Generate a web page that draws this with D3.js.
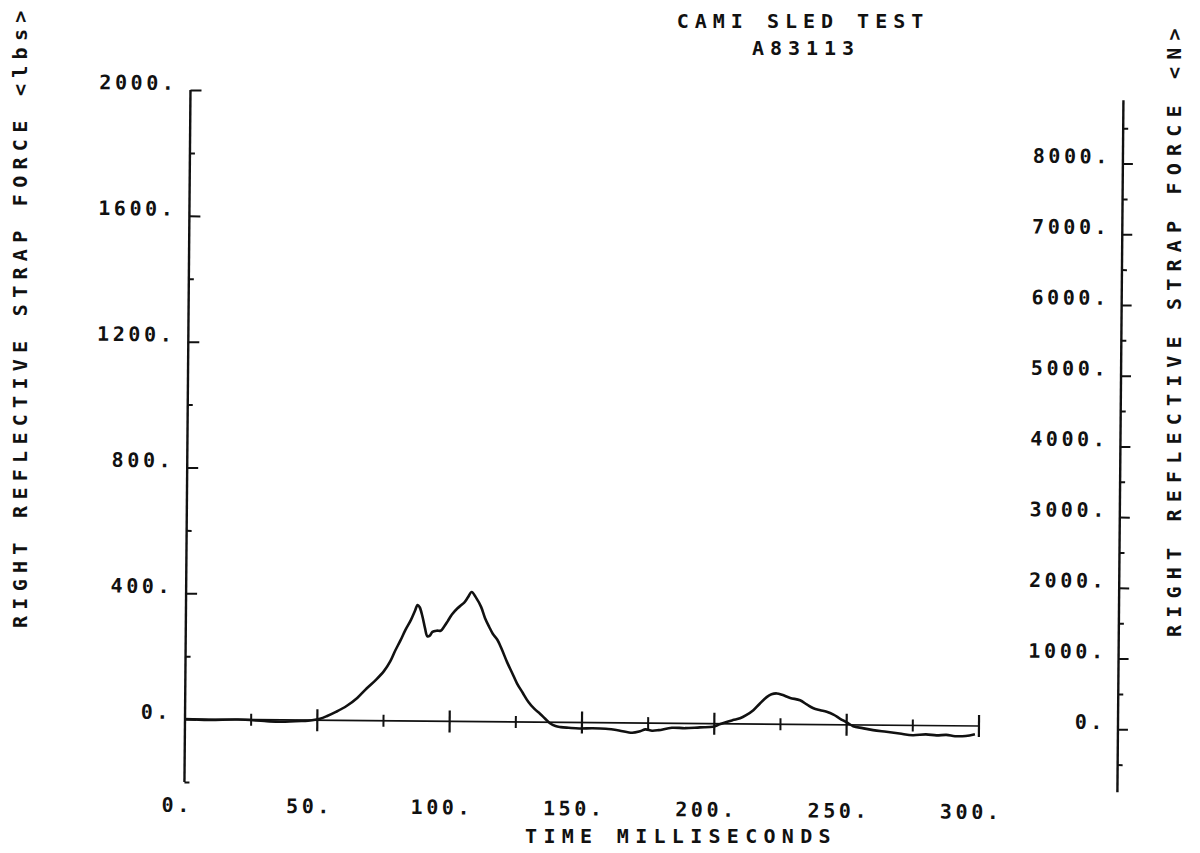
<!DOCTYPE html>
<html>
<head>
<meta charset="utf-8">
<script src="https://cdn.jsdelivr.net/npm/d3@7"></script>
<style>
  html, body { margin: 0; padding: 0; background: #fff; }
  svg { display: block; }
  text { font-family: "DejaVu Sans Mono", monospace; fill: #111; font-weight: bold; }
</style>
</head>
<body>
<svg id="chart" width="1200" height="853"></svg>
<script>
// ---- data ----
const timeMs = [0, 9, 20, 30, 36, 44, 48, 51, 53.5, 57, 61, 65, 68.6, 72, 75, 77.4, 79, 81.2, 83, 85,
  86.5, 87.5, 88.3, 89.4, 90.4, 91.3, 92.2, 93.2, 94.8, 96.3, 97.5, 98.9, 100.5, 102.6, 104, 105.1,
  106.5, 107.9, 109.5, 111.5, 113, 114.6, 116, 117.8, 119.5, 121.5, 123.5, 125.3, 127.5, 129.7, 132,
  134.1, 136, 137.9, 140, 142, 145, 149, 154, 159, 164, 169, 172, 174, 176.5, 179, 184, 189, 194.6,
  199.5, 202, 204.6, 207, 209.7, 212, 214.7, 217, 219.7, 221.5, 223.5, 225.5, 228.6, 232.3, 235,
  237.4, 240, 242.4, 245, 247.4, 250, 252.5, 256, 260, 265, 270, 275, 280, 284, 287.7, 291, 295, 298.5];
const forceLb = [0, -2, 0, -4, -6, -3, 0, 5, 13, 27, 46, 72, 103, 130, 158, 190, 220, 257, 290, 321,
  350, 369, 362, 332, 295, 270, 272, 284, 288, 288, 300, 318, 340, 360, 370, 378,
  395, 412, 395, 365, 330, 302, 280, 260, 230, 190, 155, 123, 93, 64, 42,
  27, 12, -3, -12, -15, -17, -19, -18, -19, -24, -31, -26, -20, -24, -22, -14, -15, -12,
  -10, -2, 6, 12, 18, 28, 44, 64, 86, 95, 98, 94, 84, 77, 63,
  52, 46, 41, 32, 20, 8, -4, -10, -16, -21, -26, -31, -28, -31, -29, -33, -32, -26];

const leftMajor = [0, 400, 800, 1200, 1600, 2000];
const leftMinor = [-200, 200, 600, 1000, 1400, 1800];
const leftLabels = ["0.", "400.", "800.", "1200.", "1600.", "2000."];
const rightMajor = [0, 1000, 2000, 3000, 4000, 5000, 6000, 7000, 8000];
const rightMinor = [-500, 500, 1500, 2500, 3500, 4500, 5500, 6500, 7500, 8500];
const rightLabels = ["0.", "1000.", "2000.", "3000.", "4000.", "5000.", "6000.", "7000.", "8000."];
const xMajor = [0, 50, 100, 150, 200, 250, 300];
const xMinor = [25, 75, 125, 175, 225, 275];
const xLabels = ["0.", "50.", "100.", "150.", "200.", "250.", "300."];
const LB_TO_N = 4.448;

const titleLines = ["CAMI SLED TEST", "A83113"];
const xTitle = "TIME MILLISECONDS";
const yLeftTitle = "RIGHT REFLECTIVE STRAP FORCE <lbs>";
const yRightTitle = "RIGHT REFLECTIVE STRAP FORCE <N>";

// ---- drawing ----
const svg = d3.select("#chart");
svg.append("rect").attr("width", 1200).attr("height", 853).attr("fill", "#fff");

const x = d3.scaleLinear().domain([0, 300]).range([185, 979]);
const yL = d3.scaleLinear().domain([-200, 2000]).range([782, 90]);
const yR = d3.scaleLinear().domain([-200 * LB_TO_N, 2000 * LB_TO_N]).range([784, 92]);
const rightX = 1118;
const ink = "#111";

// whole plot is slightly rotated in the scan
const g = svg.append("g").attr("transform", "rotate(0.5, 185, 719)");

// left axis
const leftAxis = d3.axisRight(yL).tickValues(leftMajor).tickSize(11).tickFormat("");
const la = g.append("g").attr("transform", `translate(${x(0)},0)`).call(leftAxis);
const leftAxisMinor = d3.axisRight(yL).tickValues(leftMinor).tickSize(5).tickFormat("");
g.append("g").attr("transform", `translate(${x(0)},0)`).call(leftAxisMinor).select(".domain").remove();
la.select(".domain").attr("d", `M0,${yL(-200)}V${yL(2000)}`);

g.append("g").selectAll("text").data(leftMajor).join("text")
  .attr("x", x(0) - 13).attr("y", d => yL(d))
  .attr("text-anchor", "end").attr("font-size", 20).attr("letter-spacing", 3.6)
  .text((d, i) => leftLabels[i]);

// right axis
const rg = g.append("g").attr("transform", `translate(${rightX},0)`);
rg.call(d3.axisRight(yR).tickValues(rightMajor).tickSize(10).tickFormat(""));
rg.select(".domain").attr("d", `M0,${yR(-200 * LB_TO_N)}V${yR(2000 * LB_TO_N)}`);
const rgm = g.append("g").attr("transform", `translate(${rightX},0)`)
  .call(d3.axisRight(yR).tickValues(rightMinor).tickSize(5).tickFormat(""));
rgm.select(".domain").remove();
g.selectAll(".domain").attr("stroke", ink).attr("stroke-width", 2.4);
g.selectAll(".tick line").attr("stroke", ink).attr("stroke-width", 2);

g.append("g").selectAll("text").data(rightMajor).join("text")
  .attr("x", rightX - 12).attr("y", d => yR(d))
  .attr("text-anchor", "end").attr("font-size", 20).attr("letter-spacing", 3.6)
  .text((d, i) => rightLabels[i]);

// zero line with time ticks
g.append("line").attr("x1", x(0)).attr("x2", x(300)).attr("y1", yL(0)).attr("y2", yL(0))
  .attr("stroke", ink).attr("stroke-width", 1.7);
g.append("g").selectAll("line").data(xMajor.filter(d => d > 0)).join("line")
  .attr("x1", d => x(d)).attr("x2", d => x(d))
  .attr("y1", yL(0) - 11).attr("y2", yL(0) + 11)
  .attr("stroke", ink).attr("stroke-width", 2.2);
g.append("g").selectAll("line").data(xMinor).join("line")
  .attr("x1", d => x(d)).attr("x2", d => x(d))
  .attr("y1", yL(0) - 6).attr("y2", yL(0) + 6)
  .attr("stroke", ink).attr("stroke-width", 2);

g.append("g").selectAll("text").data(xMajor).join("text")
  .attr("x", d => x(d) - 7).attr("y", 812)
  .attr("text-anchor", "middle").attr("font-size", 20).attr("letter-spacing", 3.6)
  .text((d, i) => xLabels[i]);

// data curve
const line = d3.line().x((d, i) => x(timeMs[i])).y(d => yL(d)).curve(d3.curveCatmullRom.alpha(0.5));
g.append("path").datum(forceLb).attr("d", line)
  .attr("fill", "none").attr("stroke", ink).attr("stroke-width", 2.6)
  .attr("stroke-linejoin", "round");

// titles
svg.append("text").attr("x", 803).attr("y", 28).attr("text-anchor", "middle")
  .attr("font-size", 20).attr("letter-spacing", 6).text(titleLines[0]);
svg.append("text").attr("x", 806).attr("y", 55).attr("text-anchor", "middle")
  .attr("font-size", 20).attr("letter-spacing", 6).text(titleLines[1]);
svg.append("text").attr("x", 681).attr("y", 843).attr("text-anchor", "middle")
  .attr("font-size", 20).attr("letter-spacing", 6.3).text(xTitle);

svg.append("text").attr("transform", "translate(27,628) rotate(-90)")
  .attr("text-anchor", "start").attr("font-size", 20).attr("letter-spacing", 6.3).text(yLeftTitle);
svg.append("text").attr("transform", "translate(1181,637) rotate(-90)")
  .attr("text-anchor", "start").attr("font-size", 20).attr("letter-spacing", 7.2).text(yRightTitle);
</script>
</body>
</html>
